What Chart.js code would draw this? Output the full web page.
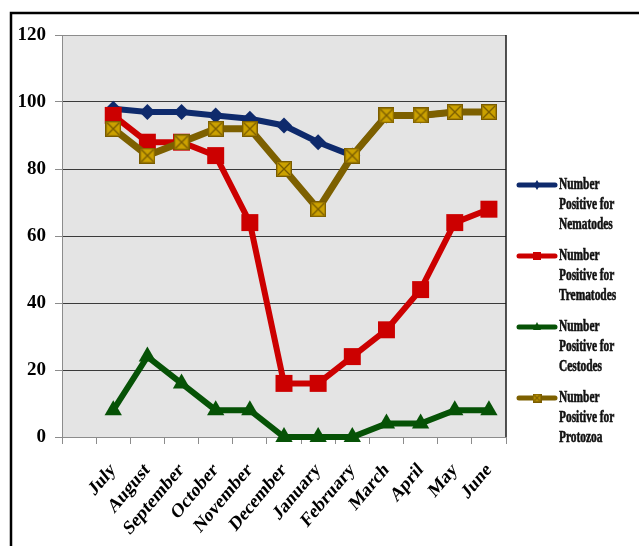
<!DOCTYPE html>
<html>
<head>
<meta charset="utf-8">
<script src="https://cdn.jsdelivr.net/npm/chart.js@4/dist/chart.umd.min.js"></script>
<style>
  body { margin: 0; background: #fff; }
  #wrap { position: relative; width: 639px; height: 546px; }
</style>
</head>
<body>
<div id="wrap"><canvas id="myChart" width="639" height="546"></canvas></div>
<script>
// months (first slot left blank on purpose, Excel-style)
const months = ['', 'July', 'August', 'September', 'October', 'November', 'December',
  'January', 'February', 'March', 'April', 'May', 'June'];
const nematodes  = [null, 98, 97, 97, 96, 95, 93, 88, 84, 96, 96, 97, 97];
const trematodes = [null, 96, 88, 88, 84, 64, 16, 16, 24, 32, 44, 64, 68];
const cestodes   = [null, 8, 24, 16, 8, 8, 0, 0, 0, 4, 4, 8, 8];
const protozoa   = [null, 92, 84, 88, 92, 92, 80, 68, 84, 96, 96, 97, 97];
const yTicks = [0, 20, 40, 60, 80, 100, 120];

const serif = '"Liberation Serif", "Times New Roman", serif';

// gold box with an X, used as the protozoa marker
function crossBox(size) {
  let c = document.createElement('canvas');
  c.width = size; c.height = size;
  let g = c.getContext('2d');
  g.fillStyle = '#cba100';
  g.fillRect(0, 0, size, size);
  g.strokeStyle = '#7a5c00';
  g.lineWidth = 1.4;
  g.strokeRect(0.7, 0.7, size - 1.4, size - 1.4);
  g.beginPath();
  g.moveTo(2, 2); g.lineTo(size - 2, size - 2);
  g.moveTo(size - 2, 2); g.lineTo(2, size - 2);
  g.stroke();
  return c;
}
const boxMarker = crossBox(16);
const boxSmall = crossBox(9);

const series = [
  { label: ['Number', 'Positive for', 'Nematodes'], data: nematodes, color: '#0e2a6c', style: 'rectRot', r: 8, order: 4 },
  { label: ['Number', 'Positive for', 'Trematodes'], data: trematodes, color: '#cc0000', style: 'rect', r: 12, order: 3 },
  { label: ['Number', 'Positive for', 'Cestodes'], data: cestodes, color: '#065206', style: 'triangle', r: 10, order: 2 },
  { label: ['Number', 'Positive for', 'Protozoa'], data: protozoa, color: '#7d6000', style: boxMarker, r: 8, order: 1 }
];

const frame = {
  id: 'frame',
  beforeDraw(chart) {
    let a = chart.chartArea, c = chart.ctx;
    c.save();
    c.fillStyle = '#e4e4e4';
    c.fillRect(a.left, a.top, a.right - a.left, a.bottom - a.top);
    c.restore();
  },
  beforeDatasetsDraw(chart) {
    let a = chart.chartArea, c = chart.ctx;
    c.save();
    c.strokeStyle = '#1a1a1a';
    c.lineWidth = 1.5;
    c.beginPath();
    c.moveTo(a.right, a.top); c.lineTo(a.right, a.bottom);
    c.stroke();
    c.restore();
  },
  afterDraw(chart) {
    let c = chart.ctx;
    c.save();
    // outer border
    c.strokeStyle = '#000';
    c.lineWidth = 2.5;
    c.strokeRect(11, 13, 800, 800);

    // month names, slanted and a bit narrow
    let xs = chart.scales.x;
    c.fillStyle = '#000';
    c.font = 'bold 20px ' + serif;
    c.textAlign = 'right';
    c.textBaseline = 'middle';
    months.forEach((m, i) => {
      if (!m) return;
      c.save();
      c.translate(xs.getPixelForValue(i), 467);
      c.scale(0.84, 1);
      c.rotate(-Math.PI / 4);
      c.fillText(m, 0, 0);
      c.restore();
    });

    // legend on the right
    c.textAlign = 'left';
    let x0 = 517, x1 = 557, y = 185;
    series.forEach((s) => {
      c.strokeStyle = s.color;
      c.lineWidth = 5;
      c.lineCap = 'round';
      c.beginPath();
      c.moveTo(x0 + 2, y); c.lineTo(x1 - 2, y);
      c.stroke();
      let mx = (x0 + x1) / 2;
      c.fillStyle = s.color;
      c.beginPath();
      if (s.style === 'rectRot') {
        c.moveTo(mx, y - 5); c.lineTo(mx + 3, y); c.lineTo(mx, y + 5); c.lineTo(mx - 3, y);
        c.fill();
      } else if (s.style === 'rect') {
        c.fillRect(mx - 4, y - 4, 8, 8);
      } else if (s.style === 'triangle') {
        c.moveTo(mx, y - 5); c.lineTo(mx + 4, y + 3); c.lineTo(mx - 4, y + 3);
        c.fill();
      } else {
        c.drawImage(boxSmall, mx - 4.5, y - 4.5);
      }
      c.fillStyle = '#111';
      c.strokeStyle = '#111';
      c.lineWidth = 0.6;
      c.font = 'bold 17px ' + serif;
      s.label.forEach((t, i) => {
        c.save();
        c.translate(559, y + i * 20);
        c.scale(0.67, 1);
        c.fillText(t, 0, 0);
        c.strokeText(t, 0, 0);
        c.restore();
      });
      y += 71;
    });
    c.restore();
  }
};

const ctx = document.getElementById('myChart');
new Chart(ctx, {
  type: 'line',
  data: {
    labels: months,
    datasets: series.map((s) => ({
      label: s.label.join(' '),
      data: s.data,
      borderColor: s.color,
      backgroundColor: s.color,
      borderWidth: s.style === boxMarker ? 7 : 6,
      pointStyle: s.style,
      pointRadius: s.r,
      pointHoverRadius: s.r,
      pointBorderWidth: 0,
      tension: 0,
      clip: false,
      order: s.order
    }))
  },
  options: {
    responsive: false,
    animation: false,
    events: [],
    layout: { padding: { top: 35, right: 133, left: 0, bottom: 0 } },
    plugins: { legend: { display: false }, tooltip: { enabled: false } },
    scales: {
      x: {
        offset: true,
        grid: { offset: true, drawOnChartArea: false, drawTicks: true, tickLength: 7, color: '#8c8c8c' },
        border: { color: '#8c8c8c', width: 1 },
        ticks: { display: false },
        afterFit(scale) { scale.height = 109; }
      },
      y: {
        min: 0, max: 120,
        afterBuildTicks(scale) { scale.ticks = yTicks.map((v) => ({ value: v })); },
        grid: {
          color: (c) => (c.tick && (c.tick.value === 0 || c.tick.value === 120)) ? '#8c8c8c' : '#3a3a3a',
          tickColor: '#8c8c8c', tickLength: 7, lineWidth: 1
        },
        border: { color: '#8c8c8c', width: 1 },
        ticks: {
          padding: 9, color: '#000',
          font: { family: serif, size: 19, weight: 'bold' }
        },
        afterFit(scale) { scale.width = 62; }
      }
    }
  },
  plugins: [frame]
});
</script>
</body>
</html>
